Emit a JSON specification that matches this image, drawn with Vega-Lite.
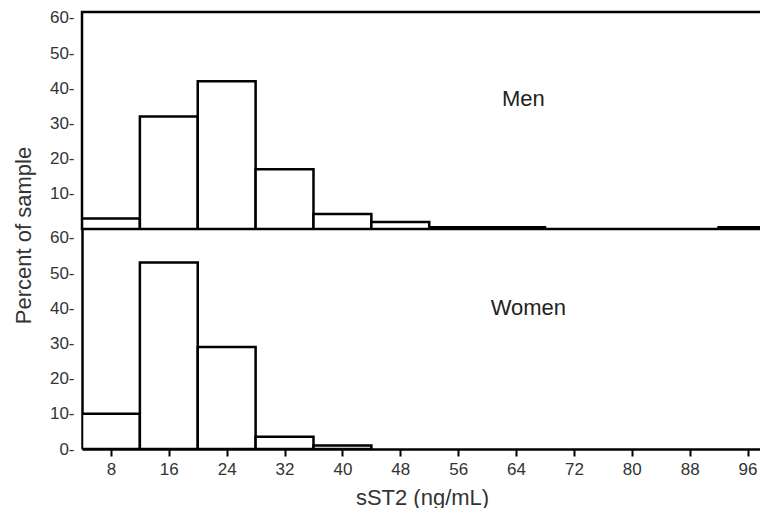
{
  "$schema": "https://vega.github.io/schema/vega-lite/v6.json",
  "padding": {"left": 11, "top": 7, "right": 0, "bottom": 0},
  "background": "white",
  "spacing": 0,
  "bounds": "flush",
  "config": {
    "font": "Liberation Sans",
    "concat": {"spacing": 0},
    "axis": {"labelFont": "Liberation Sans", "titleFont": "Liberation Sans", "labelColor": "#333", "titleColor": "#333", "tickColor": "#333", "grid": false}
  },
  "datasets": {
    "bins": [
      {"sex": "Men", "start": 4, "end": 12, "pct": 3},
      {"sex": "Men", "start": 12, "end": 20, "pct": 32},
      {"sex": "Men", "start": 20, "end": 28, "pct": 42},
      {"sex": "Men", "start": 28, "end": 36, "pct": 17},
      {"sex": "Men", "start": 36, "end": 44, "pct": 4.3},
      {"sex": "Men", "start": 44, "end": 52, "pct": 2},
      {"sex": "Men", "start": 52, "end": 60, "pct": 0.5},
      {"sex": "Men", "start": 60, "end": 68, "pct": 0.5},
      {"sex": "Men", "start": 92, "end": 100, "pct": 0.5},
      {"sex": "Women", "start": 4, "end": 12, "pct": 10},
      {"sex": "Women", "start": 12, "end": 20, "pct": 53},
      {"sex": "Women", "start": 20, "end": 28, "pct": 29},
      {"sex": "Women", "start": 28, "end": 36, "pct": 3.5},
      {"sex": "Women", "start": 36, "end": 44, "pct": 1}
    ],
    "labels": [
      {"sex": "Men", "x": 65, "y": 37},
      {"sex": "Women", "x": 65.7, "y": 40}
    ]
  },
  "vconcat": [
    {
      "width": 680,
      "height": 217,
      "view": {"stroke": "black", "strokeWidth": 2.5},
      "layer": [
        {
          "data": {"name": "bins"},
          "transform": [{"filter": "datum.sex === 'Men'"}],
          "mark": {"type": "bar", "fill": "white", "stroke": "black", "strokeWidth": 2.5, "clip": true},
          "encoding": {
            "x": {"field": "start", "type": "quantitative", "scale": {"domain": [4, 98], "nice": false, "zero": false}, "axis": null},
            "x2": {"field": "end"},
            "y": {"field": "pct", "type": "quantitative", "scale": {"domain": [0, 61.7], "nice": false},
              "axis": {"values": [10, 20, 30, 40, 50, 60], "title": null, "domain": false, "ticks": false, "labelOverlap": false, "labelExpr": "datum.label + '-'", "labelPadding": 8, "labelFontSize": 17}},
            "y2": {"datum": 0}
          }
        },
        {
          "data": {"name": "labels"},
          "transform": [{"filter": "datum.sex === 'Men'"}],
          "mark": {"type": "text", "fontSize": 22, "color": "#222"},
          "encoding": {
            "x": {"field": "x", "type": "quantitative"},
            "y": {"field": "y", "type": "quantitative",
              "axis": {"values": [10, 20, 30, 40, 50, 60], "title": null, "domain": false, "ticks": false, "labelOverlap": false, "labelExpr": "datum.label + '-'", "labelPadding": 8, "labelFontSize": 17}},
            "text": {"field": "sex"}
          }
        }
      ]
    },
    {
      "width": 680,
      "height": 220,
      "view": {"stroke": null},
      "layer": [
        {
          "data": {"name": "bins"},
          "transform": [{"filter": "datum.sex === 'Women'"}],
          "mark": {"type": "bar", "fill": "white", "stroke": "black", "strokeWidth": 2.5, "clip": true},
          "encoding": {
            "x": {"field": "start", "type": "quantitative", "scale": {"domain": [4, 98], "nice": false, "zero": false},
              "axis": {"values": [8, 16, 24, 32, 40, 48, 56, 64, 72, 80, 88, 96], "title": "sST2 (ng/mL)", "domainColor": "black", "domainWidth": 2.5, "tickSize": 7, "tickWidth": 2, "tickColor": "black", "labelFontSize": 17, "labelPadding": 5, "titleFontSize": 22, "titleFontWeight": "normal", "titlePadding": 10}},
            "x2": {"field": "end"},
            "y": {"field": "pct", "type": "quantitative", "scale": {"domain": [0, 62.5], "nice": false},
              "axis": {"values": [0, 10, 20, 30, 40, 50, 60], "title": "Percent of sample", "titleFontSize": 22, "titleFontWeight": "normal", "titleX": -59, "titleY": 6, "titleAlign": "center", "titleBaseline": "middle", "domainColor": "black", "domainWidth": 2.5, "ticks": false, "labelOverlap": false, "labelExpr": "datum.label + '-'", "labelPadding": 8, "labelFontSize": 17}},
            "y2": {"datum": 0}
          }
        },
        {
          "data": {"name": "labels"},
          "transform": [{"filter": "datum.sex === 'Women'"}],
          "mark": {"type": "text", "fontSize": 22, "color": "#222"},
          "encoding": {
            "x": {"field": "x", "type": "quantitative",
              "axis": {"values": [8, 16, 24, 32, 40, 48, 56, 64, 72, 80, 88, 96], "title": "sST2 (ng/mL)", "domainColor": "black", "domainWidth": 2.5, "tickSize": 7, "tickWidth": 2, "tickColor": "black", "labelFontSize": 17, "labelPadding": 5, "titleFontSize": 22, "titleFontWeight": "normal", "titlePadding": 10}},
            "y": {"field": "y", "type": "quantitative",
              "axis": {"values": [0, 10, 20, 30, 40, 50, 60], "title": "Percent of sample", "titleFontSize": 22, "titleFontWeight": "normal", "titleX": -59, "titleY": 6, "titleAlign": "center", "titleBaseline": "middle", "domainColor": "black", "domainWidth": 2.5, "ticks": false, "labelOverlap": false, "labelExpr": "datum.label + '-'", "labelPadding": 8, "labelFontSize": 17}},
            "text": {"field": "sex"}
          }
        }
      ]
    }
  ]
}
